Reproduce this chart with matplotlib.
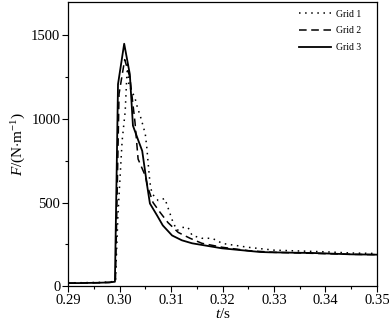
import matplotlib
matplotlib.use("Agg")
import matplotlib.pyplot as plt
from matplotlib.ticker import MultipleLocator

plt.rcParams['font.family'] = ['Liberation Serif', 'DejaVu Serif']
plt.rcParams['mathtext.fontset'] = 'custom'
plt.rcParams['mathtext.rm'] = 'Liberation Serif'
plt.rcParams['mathtext.it'] = 'Liberation Serif:italic'

# Grid 1 (coarse mesh)
t1 = [0.290, 0.292, 0.294, 0.296, 0.298, 0.2992, 0.2997, 0.3005, 0.3011, 0.3014,
      0.3016, 0.3018, 0.3024, 0.3030, 0.3034, 0.3042, 0.3050, 0.3053, 0.3056,
      0.3059, 0.3063, 0.3075, 0.3088, 0.3094, 0.3104, 0.3112, 0.3121, 0.3133,
      0.3141, 0.3160, 0.3180, 0.3200, 0.3250, 0.3300, 0.3350, 0.3400, 0.3450, 0.3500]
f1 = [20, 20, 21, 22, 24, 30, 434, 869, 1047, 1250,
      1340, 1200, 1166, 1125, 1077, 1000, 910, 827, 720,
      620, 553, 512, 524, 470, 380, 333, 351, 351,
      303, 286, 286, 255, 232, 215, 210, 205, 198, 195]

# Grid 2 (medium mesh)
t2 = [0.290, 0.292, 0.294, 0.296, 0.298, 0.2992, 0.2995, 0.2999, 0.3010, 0.3020,
      0.3030, 0.3036, 0.3050, 0.3055, 0.3065, 0.3079, 0.3094, 0.3114, 0.3137,
      0.3160, 0.3200, 0.3250, 0.3300, 0.3350, 0.3400, 0.3450, 0.3500]
f2 = [18, 18, 19, 20, 22, 26, 500, 1150, 1355, 1250,
      980, 760, 660, 590, 500, 440, 380, 321, 286,
      256, 232, 212, 202, 198, 194, 190, 188]

# Grid 3 (fine mesh)
t3 = [0.290, 0.292, 0.294, 0.296, 0.298, 0.2991, 0.2995, 0.2997, 0.3009, 0.3020,
      0.3026, 0.3036, 0.3044, 0.3053, 0.3059, 0.3073, 0.3084, 0.3102, 0.3121,
      0.3141, 0.3199, 0.3273, 0.3292, 0.3376, 0.3450, 0.3500]
f3 = [18, 18, 19, 20, 22, 26, 809, 1208, 1450, 1267,
      960, 875, 809, 613, 494, 422, 363, 303, 274,
      256, 226, 204, 202, 198, 190, 188]

fig = plt.figure(figsize=(3.89, 3.24), dpi=100)
ax = fig.add_axes([0.175, 0.117, 0.794, 0.877])

ax.plot(t1, f1, color='black', lw=1.1, linestyle=(0, (1, 3)), label='Grid 1')
ax.plot(t2, f2, color='black', lw=1.1, linestyle=(0, (5, 3)), label='Grid 2')
ax.plot(t3, f3, color='black', lw=1.3, linestyle='-', label='Grid 3')

ax.set_xlim(0.29, 0.35)
ax.set_ylim(0, 1700)
ax.xaxis.set_major_locator(MultipleLocator(0.01))
ax.xaxis.set_minor_locator(MultipleLocator(0.005))
ax.yaxis.set_major_locator(MultipleLocator(500))
ax.yaxis.set_minor_locator(MultipleLocator(250))
ax.set_xticks([0.29, 0.30, 0.31, 0.32, 0.33, 0.34, 0.35])
ax.set_xticklabels(['0.29', '0.30', '0.31', '0.32', '0.33', '0.34', '0.35'])
ax.tick_params(which='major', direction='out', length=4, width=0.8, labelsize=10.5, pad=1.5)
ax.tick_params(which='minor', direction='out', length=2.5, width=0.8)
for s in ax.spines.values():
    s.set_linewidth(0.9)

ax.set_xlabel(r'$t$/s', fontsize=11, labelpad=0)
ax.set_ylabel(r'$F$/(N$\cdot$m$^{-1}$)', fontsize=11, labelpad=2)

ax.legend(loc='upper right', bbox_to_anchor=(0.975, 1.0), frameon=False, fontsize=7,
          handlelength=3.3, handletextpad=0.5, labelspacing=0.8, borderaxespad=0.4)

fig.savefig('out.png', dpi=100)
